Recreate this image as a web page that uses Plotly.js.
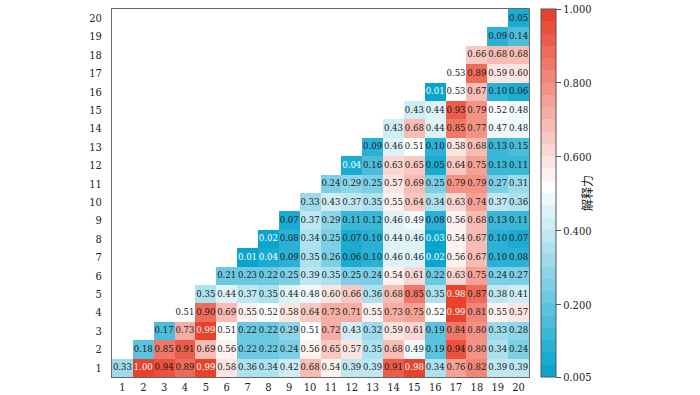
<!DOCTYPE html>
<html><head><meta charset="utf-8">
<script src="https://cdn.plot.ly/plotly-3.0.1.min.js"></script>
<style>html,body{margin:0;padding:0;background:#fff;}#chart{width:700px;height:395px;}</style>
</head><body><div id="chart"></div>
<script>
// Column / row labels
const cols = [1,2,3,4,5,6,7,8,9,10,11,12,13,14,15,16,17,18,19,20];
const rowsIdx = [1,2,3,4,5,6,7,8,9,10,11,12,13,14,15,16,17,18,19,20];
// Row values (row r holds columns r..20)
const row1  = [0.33,1.00,0.94,0.89,0.99,0.58,0.36,0.34,0.42,0.68,0.54,0.39,0.39,0.91,0.98,0.34,0.76,0.82,0.39,0.39];
const row2  = [0.18,0.85,0.91,0.69,0.56,0.22,0.22,0.24,0.56,0.65,0.57,0.35,0.68,0.49,0.19,0.94,0.80,0.34,0.24];
const row3  = [0.17,0.73,0.99,0.51,0.22,0.22,0.29,0.51,0.72,0.43,0.32,0.59,0.61,0.19,0.84,0.80,0.33,0.28];
const row4  = [0.51,0.90,0.69,0.55,0.52,0.58,0.64,0.73,0.71,0.55,0.73,0.75,0.52,0.99,0.81,0.55,0.57];
const row5  = [0.35,0.44,0.37,0.35,0.44,0.48,0.60,0.66,0.36,0.68,0.85,0.35,0.98,0.87,0.38,0.41];
const row6  = [0.21,0.23,0.22,0.25,0.39,0.35,0.25,0.24,0.54,0.61,0.22,0.63,0.75,0.24,0.27];
const row7  = [0.01,0.04,0.09,0.35,0.26,0.06,0.10,0.46,0.46,0.02,0.56,0.67,0.10,0.08];
const row8  = [0.02,0.08,0.34,0.25,0.07,0.10,0.44,0.46,0.03,0.54,0.67,0.10,0.07];
const row9  = [0.07,0.37,0.29,0.11,0.12,0.46,0.49,0.08,0.56,0.68,0.13,0.11];
const row10 = [0.33,0.43,0.37,0.35,0.55,0.64,0.34,0.63,0.74,0.37,0.36];
const row11 = [0.24,0.29,0.25,0.57,0.69,0.25,0.79,0.79,0.27,0.31];
const row12 = [0.04,0.16,0.63,0.65,0.05,0.64,0.75,0.13,0.11];
const row13 = [0.09,0.46,0.51,0.10,0.58,0.68,0.13,0.15];
const row14 = [0.43,0.68,0.44,0.85,0.77,0.47,0.48];
const row15 = [0.43,0.44,0.93,0.79,0.52,0.48];
const row16 = [0.01,0.53,0.67,0.10,0.06];
const row17 = [0.53,0.89,0.59,0.60];
const row18 = [0.66,0.68,0.68];
const row19 = [0.09,0.14];
const row20 = [0.05];
const rowVals = [row1,row2,row3,row4,row5,row6,row7,row8,row9,row10,row11,row12,row13,row14,row15,row16,row17,row18,row19,row20];

const zmin = 0.005, zmax = 1.0;
const cbTickVals = [0.005,0.2,0.4,0.6,0.8,1.0];
const cbTickText = ["0.005","0.200","0.400","0.600","0.800","1.000"];

// build full matrix
const z = rowsIdx.map((r,i) => cols.map(c => c >= r ? rowVals[i][c - r] : null));

// stepped diverging colorscale (30 bands)
const blue = [10,165,206], red = [232,66,44], white = [255,255,255];
function mix(a,b,t){return 'rgb('+a.map((v,i)=>Math.round(v+(b[i]-v)*t)).join(',')+')';}
const nb = 30, cs = [];
for (let k=0;k<nb;k++){
  let col;
  if (k<15) col = mix(blue, white, k/15);
  else if (k===15) col = mix(white, white, 0);
  else col = mix(white, red, (k-15)/14);
  cs.push([k/nb, col]); cs.push([(k+1)/nb, col]);
}

// text labels
const tx=[], ty=[], tt=[], tc=[];
rowsIdx.forEach((r,i)=>cols.forEach(c=>{
  if (c>=r){ const v=rowVals[i][c-r]; tx.push(c); ty.push(r); tt.push(v.toFixed(2));
    tc.push((v<=0.045||v>=0.975)?'#ffffff':'#1a1a1a'); }
}));

const serif = '"DejaVu Serif Condensed", "DejaVu Serif", serif';
const data = [
  {type:'heatmap', x:cols, y:rowsIdx, z:z, zmin:zmin, zmax:zmax, colorscale:cs,
   hoverongaps:false, xgap:0, ygap:0,
   colorbar:{x:1.0288, xanchor:'left', xpad:0, ypad:0, y:0.5, yanchor:'middle', len:1, lenmode:'fraction',
     thickness:15, thicknessmode:'pixels', outlinewidth:1, outlinecolor:'#555',
     tickvals:cbTickVals, ticktext:cbTickText, ticks:'outside', ticklen:5, tickcolor:'#555', tickwidth:1,
     tickfont:{family:serif, size:11, color:'#222'},
     title:{text:'', side:'right'}}},
  {type:'scatter', mode:'text', x:tx, y:ty, text:tt, hoverinfo:'skip', showlegend:false,
   textfont:{family:serif, size:9.5, color:tc}}
];
const layout = {
  width:700, height:395, margin:{l:112, r:171, t:9, b:18},
  paper_bgcolor:'#fff', plot_bgcolor:'#fff', showlegend:false,
  font:{family:serif, size:11, color:'#222'},
  xaxis:{range:[0.5,20.5], tickvals:cols, showgrid:false, zeroline:false, showline:true, mirror:true,
    linecolor:'#666', linewidth:1, ticks:'', ticklabelstandoff:0, tickfont:{family:serif,size:11}},
  yaxis:{range:[0.5,20.5], tickvals:rowsIdx, showgrid:false, zeroline:false, showline:true, mirror:true,
    linecolor:'#666', linewidth:1, ticks:'', ticklabelstandoff:7, tickfont:{family:serif,size:11}},
  annotations:[{text:'解释力', xref:'paper', yref:'paper', x:1.162, y:0.5, showarrow:false, textangle:-90,
    font:{family:'Noto Sans CJK SC', size:12, color:'#222'}}]
};
Plotly.newPlot('chart', data, layout, {displayModeBar:false, staticPlot:true});
</script></body></html>
